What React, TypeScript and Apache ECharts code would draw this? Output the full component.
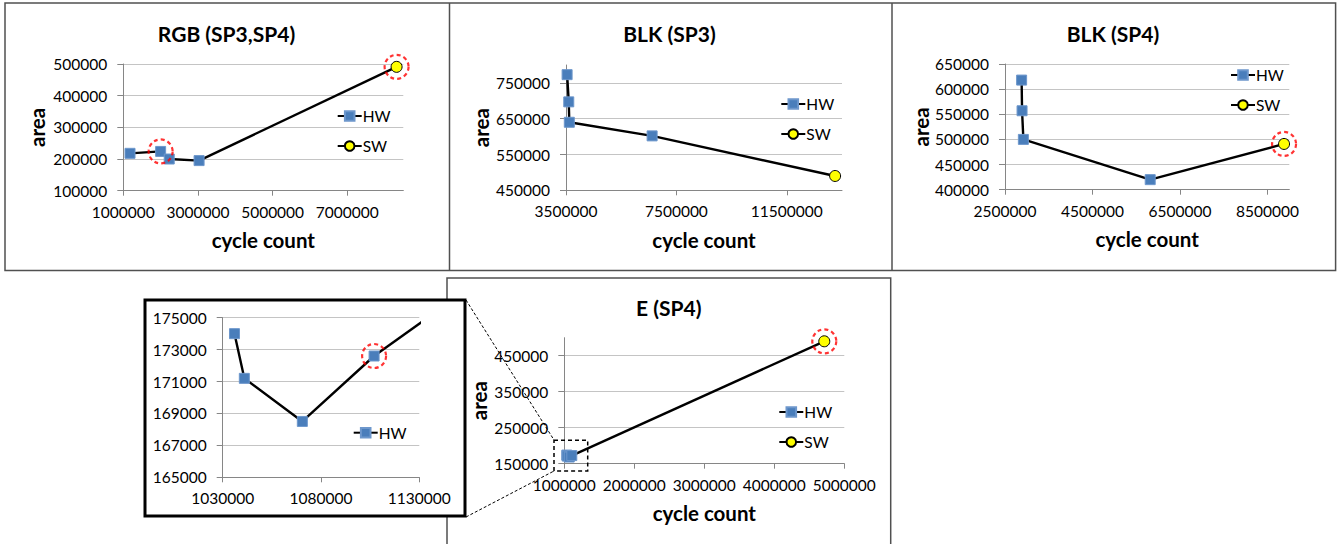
import React, { useEffect, useRef } from "react";
import * as echarts from "echarts";

type Pt = [number, number];

// RGB (SP3,SP4)
const rgbHW: Pt[] = [[1180000, 218000], [2000000, 224000], [2230000, 200000], [3030000, 195000]];
const rgbSW: Pt[] = [[8320000, 491000]];
const rgbXTicks = [1000000, 3000000, 5000000, 7000000];
const rgbYTicks = [100000, 200000, 300000, 400000, 500000];

// BLK (SP3)
const blk3HW: Pt[] = [[3540000, 773000], [3600000, 697000], [3620000, 640000], [6620000, 602000]];
const blk3SW: Pt[] = [[13250000, 490000]];
const blk3XTicks = [3500000, 7500000, 11500000];
const blk3YTicks = [450000, 550000, 650000, 750000];

// BLK (SP4)
const blk4HW: Pt[] = [[2880000, 618000], [2890000, 557000], [2920000, 500000], [5820000, 420000]];
const blk4SW: Pt[] = [[8880000, 491000]];
const blk4XTicks = [2500000, 4500000, 6500000, 8500000];
const blk4YTicks = [400000, 450000, 500000, 550000, 600000, 650000];

// E (SP4)
const eHW: Pt[] = [[1036000, 174000], [1041000, 171200], [1070500, 168500], [1107000, 172600]];
const eSW: Pt[] = [[4714000, 490000]];
const eXTicks = [1000000, 2000000, 3000000, 4000000, 5000000];
const eYTicks = [150000, 250000, 350000, 450000];

// zoomed inset of E (SP4)
const zoomXTicks = [1030000, 1080000, 1130000];
const zoomYTicks = [165000, 167000, 169000, 171000, 173000, 175000];

const titles = ["RGB (SP3,SP4)", "BLK (SP3)", "BLK (SP4)", "E (SP4)"];
const xName = "cycle count";
const yName = "area";

const FONT = "Lato";

interface Panel {
  hw: Pt[];
  sw: Pt[];
  xTicks: number[];
  yTicks: number[];
  xMin: number;
  xMax: number;
  yMin: number;
  yMax: number;
  grid: { left: number; top: number; width: number; height: number };
  highlight: Pt[];
  legend: { left: number; top: number; items: string[] };
  names: boolean;
  yGap: number;
}

const panels: Panel[] = [
  {
    hw: rgbHW, sw: rgbSW, xTicks: rgbXTicks, yTicks: rgbYTicks,
    xMin: 1000000, xMax: 8500000, yMin: 100000, yMax: 500000,
    grid: { left: 123.3, top: 64, width: 280, height: 126.7 },
    highlight: [rgbHW[1], rgbSW[0]],
    legend: { left: 336.7, top: 108, items: ["HW", "SW"] },
    names: true, yGap: 76,
  },
  {
    hw: blk3HW, sw: blk3SW, xTicks: blk3XTicks, yTicks: blk3YTicks,
    xMin: 3500000, xMax: 13500000, yMin: 450000, yMax: 800000,
    grid: { left: 566, top: 65, width: 276, height: 125.3 },
    highlight: [],
    legend: { left: 780.3, top: 96, items: ["HW", "SW"] },
    names: true, yGap: 75,
  },
  {
    hw: blk4HW, sw: blk4SW, xTicks: blk4XTicks, yTicks: blk4YTicks,
    xMin: 2500000, xMax: 9000000, yMin: 400000, yMax: 650000,
    grid: { left: 1005, top: 64, width: 284.3, height: 125.7 },
    highlight: [blk4SW[0]],
    legend: { left: 1230, top: 67, items: ["HW", "SW"] },
    names: true, yGap: 72,
  },
  {
    hw: eHW, sw: eSW, xTicks: eXTicks, yTicks: eYTicks,
    xMin: 1000000, xMax: 5000000, yMin: 150000, yMax: 500000,
    grid: { left: 564.3, top: 337.7, width: 280, height: 126 },
    highlight: [eSW[0]],
    legend: { left: 778.3, top: 404, items: ["HW", "SW"] },
    names: true, yGap: 75,
  },
  {
    hw: eHW, sw: eSW, xTicks: zoomXTicks, yTicks: zoomYTicks,
    xMin: 1030000, xMax: 1130000, yMin: 165000, yMax: 175000,
    grid: { left: 222.7, top: 317.7, width: 196.6, height: 159.6 },
    highlight: [eHW[3]],
    legend: { left: 352.7, top: 424.7, items: ["HW"] },
    names: false, yGap: 0,
  },
];

const AXIS = "#868686";
const GRIDC = "#c4c4c4";

function buildOption(): any {
  const grid: any[] = [];
  const xAxis: any[] = [];
  const yAxis: any[] = [];
  const series: any[] = [];
  const legend: any[] = [];

  panels.forEach((p, i) => {
    grid.push({ ...p.grid, containLabel: false });
    xAxis.push({
      type: "value", gridIndex: i, min: p.xMin, max: p.xMax,
      axisLine: { show: true, lineStyle: { color: AXIS, width: 1 } },
      axisTick: { show: true, customValues: p.xTicks, length: 5, lineStyle: { color: AXIS } },
      axisLabel: {
        customValues: p.xTicks, fontSize: 15.5, fontFamily: FONT, color: "#000", margin: 13,
        formatter: (v: number) => String(v),
      },
      splitLine: { show: false },
      name: p.names ? xName : "",
      nameLocation: "middle", nameGap: 39,
      nameTextStyle: { fontSize: 20.5, fontWeight: "bold", fontFamily: FONT, color: "#000" },
    });
    yAxis.push({
      type: "value", gridIndex: i, min: p.yMin, max: p.yMax,
      axisLine: { show: true, lineStyle: { color: AXIS, width: 1 } },
      axisTick: { show: true, customValues: p.yTicks, length: 6, lineStyle: { color: AXIS } },
      axisLabel: {
        customValues: p.yTicks, fontSize: 15.5, fontFamily: FONT, color: "#000", margin: 16,
        formatter: (v: number) => String(v),
      },
      splitLine: { show: true, lineStyle: { color: GRIDC, width: 1 } },
      name: p.names ? yName : "",
      nameLocation: "middle", nameGap: p.yGap, nameRotate: 90,
      nameTextStyle: { fontSize: 20.5, fontWeight: "bold", fontFamily: FONT, color: "#000" },
    });
    const last = p.hw[p.hw.length - 1];
    series.push({
      type: "line", name: "SW", xAxisIndex: i, yAxisIndex: i, z: 2,
      data: [{ value: last, symbol: "none" }, ...p.sw],
      symbol: "circle", symbolSize: 11,
      itemStyle: { color: "#ffff00", borderColor: "#000", borderWidth: 1 },
      lineStyle: { color: "#000", width: 2.4 },
      silent: true, emphasis: { disabled: true },
    });
    series.push({
      type: "line", name: "HW", xAxisIndex: i, yAxisIndex: i, z: 3,
      data: p.hw,
      symbol: "rect", symbolSize: 10,
      itemStyle: { color: "#4a7ebb", borderColor: "#6d97cc", borderWidth: 1 },
      lineStyle: { color: "#000", width: 2.4 },
      silent: true, emphasis: { disabled: true },
    });
    if (p.highlight.length) {
      series.push({
        type: "scatter", name: "mark", xAxisIndex: i, yAxisIndex: i, z: 4,
        data: p.highlight, symbol: "circle", symbolSize: 24,
        itemStyle: { color: "rgba(0,0,0,0)", borderColor: "#ff0000", borderWidth: 2.2, borderType: [4, 3] },
        silent: true, emphasis: { disabled: true },
      });
    }
    legend.push({
      data: p.legend.items, orient: "vertical", left: p.legend.left, top: p.legend.top,
      padding: 0, itemWidth: 24, itemHeight: 12, itemGap: 14, selectedMode: false,
      textStyle: { fontSize: 15.5, fontFamily: FONT, color: "#000", lineHeight: 16, padding: [0, 0, 0, -4] },
    });
  });

  const border = { fill: "none", stroke: "#505050", lineWidth: 1.5 };
  const titleStyle = (text: string, x: number, y: number) => ({
    type: "text", x, y, z: 5,
    style: { text, fontSize: 21, fontWeight: "bold", fontFamily: FONT, fill: "#000", textAlign: "center", textVerticalAlign: "middle" },
  });

  const graphic: any[] = [
    { type: "rect", z: -20, shape: { x: 5, y: 3, width: 1330.6, height: 267.6 }, style: border },
    { type: "line", z: -20, shape: { x1: 449.5, y1: 3, x2: 449.5, y2: 270.6 }, style: border },
    { type: "line", z: -20, shape: { x1: 892, y1: 3, x2: 892, y2: 270.6 }, style: border },
    { type: "rect", z: -20, shape: { x: 447, y: 278, width: 443.7, height: 290 }, style: border },
    { type: "rect", z: -10, shape: { x: 145, y: 300, width: 320, height: 216 }, style: { fill: "#fff", stroke: "#000", lineWidth: 3 } },
    { type: "line", z: 10, shape: { x1: 466, y1: 300, x2: 554, y2: 440 }, style: { stroke: "#000", lineWidth: 1, lineDash: [3, 2] } },
    { type: "line", z: 10, shape: { x1: 466, y1: 517, x2: 554, y2: 471 }, style: { stroke: "#000", lineWidth: 1, lineDash: [3, 2] } },
    { type: "rect", z: 10, shape: { x: 554, y: 440.3, width: 33.7, height: 30.7 }, style: { fill: "none", stroke: "#000", lineWidth: 1.5, lineDash: [4, 3] } },
    titleStyle(titles[0], 226.5, 33),
    titleStyle(titles[1], 669.5, 33),
    titleStyle(titles[2], 1113, 33),
    titleStyle(titles[3], 668.7, 307),
  ];

  return {
    animation: false,
    backgroundColor: "#fff",
    grid, xAxis, yAxis, series, legend, graphic,
  };
}

export default function App() {
  const ref = useRef<HTMLDivElement>(null);
  useEffect(() => {
    document.body.style.margin = "0";
    if (!ref.current) return;
    const chart = echarts.init(ref.current, undefined, { renderer: "svg" });
    chart.setOption(buildOption());
    return () => chart.dispose();
  }, []);
  return <div ref={ref} style={{ width: 1343, height: 544 }} />;
}
